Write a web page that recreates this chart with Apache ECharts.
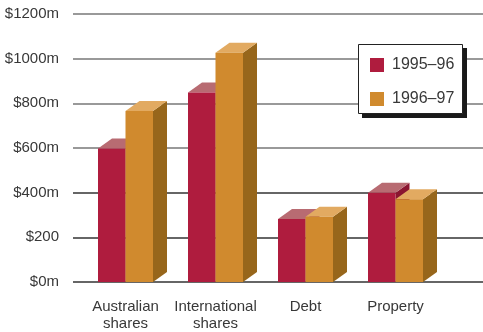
<!DOCTYPE html>
<html>
<head>
<meta charset="utf-8">
<script src="https://cdn.jsdelivr.net/npm/echarts@6/dist/echarts.min.js"></script>
<style>
  html, body { margin: 0; padding: 0; background: #fff; }
  #chart { width: 483px; height: 332px; }
</style>
</head>
<body>
<div id="chart"></div>
<script>
// Funds invested by asset class, two financial years
const categories = ['Australian\nshares', 'International\nshares', 'Debt', 'Property'];
const seriesNames = ['1995–96', '1996–97'];
const values1995 = [598, 848, 282, 400];
const values1996 = [766, 1027, 292, 370];
const yTickLabels = ['$0m', '$200', '$400m', '$600m', '$800m', '$1000m', '$1200m'];

const FONT = '"Liberation Sans Narrow", "Liberation Sans", Arial, sans-serif';
const AXIS_SIZE = 15;
const LEGEND_SIZE = 16;
const TEXT = '#383838';

// face colours: front, top, side
const palettes = [
  { front: '#AF1C3E', top: '#B86B72', side: '#8A1530' },
  { front: '#D08A2E', top: '#E2AA61', side: '#97661B' }
];
const BAR_W = 27.5;
const DEPTH_X = 14;
const DEPTH_Y = -10;

function makeRender(seriesIdx) {
  const pal = palettes[seriesIdx];
  return function (params, api) {
    const cat = api.value(0);
    const val = api.value(1);
    const top = api.coord([cat, val]);
    const base = api.coord([cat, 0]);
    const x0 = top[0] - BAR_W + seriesIdx * BAR_W;
    const x1 = x0 + BAR_W;
    const yt = top[1];
    const yb = base[1];
    return {
      type: 'group',
      children: [
        {
          type: 'polygon',
          shape: { points: [[x1, yt], [x1 + DEPTH_X, yt + DEPTH_Y], [x1 + DEPTH_X, yb + DEPTH_Y], [x1, yb]] },
          style: { fill: pal.side }
        },
        {
          type: 'polygon',
          shape: { points: [[x0, yt], [x0 + DEPTH_X, yt + DEPTH_Y], [x1 + DEPTH_X, yt + DEPTH_Y], [x1, yt]] },
          style: { fill: pal.top }
        },
        {
          type: 'rect',
          shape: { x: x0, y: yt, width: BAR_W, height: yb - yt },
          style: { fill: pal.front }
        }
      ]
    };
  };
}

const chart = echarts.init(document.getElementById('chart'), null, { renderer: 'canvas' });
chart.setOption({
  animation: false,
  backgroundColor: '#fff',
  textStyle: { fontFamily: FONT },
  grid: [
    { left: 73, right: 0, top: 14, bottom: 50 },
    { left: 80.5, right: 42.5, top: 14, bottom: 50 }
  ],
  xAxis: [
    { gridIndex: 0, type: 'value', show: false, min: 0, max: 1 },
    {
      gridIndex: 1,
      type: 'category',
      data: categories,
      axisLine: { show: false },
      axisTick: { show: false },
      axisLabel: { interval: 0, margin: 16, color: TEXT, fontFamily: FONT, fontSize: AXIS_SIZE, lineHeight: 17 }
    }
  ],
  yAxis: [
    {
      gridIndex: 0,
      type: 'value',
      min: 0, max: 1200, interval: 200,
      axisLine: { show: false },
      axisTick: { show: false },
      axisLabel: {
        margin: 14, color: TEXT, fontFamily: FONT, fontSize: AXIS_SIZE,
        formatter: (v) => yTickLabels[Math.round(v / 200)]
      },
      splitLine: {
        lineStyle: { width: 1.5, color: ['#333', '#333', '#333', '#777', '#777', '#777', '#777'] }
      }
    },
    { gridIndex: 1, type: 'value', min: 0, max: 1200, show: false }
  ],
  // legend frame with a hard drop shadow
  graphic: [
    { type: 'rect', z: 10, shape: { x: 362, y: 48, width: 105, height: 70 }, style: { fill: '#1a1a1a' } },
    { type: 'rect', z: 11, shape: { x: 358.5, y: 44.5, width: 104, height: 69 }, style: { fill: '#fff', stroke: '#222', lineWidth: 1 } }
  ],
  legend: {
    orient: 'vertical',
    left: 370,
    top: 57,
    padding: 0,
    z: 12,
    itemWidth: 14,
    itemHeight: 14,
    itemGap: 18,
    icon: 'rect',
    textStyle: { color: TEXT, fontFamily: FONT, fontSize: LEGEND_SIZE, lineHeight: 14, padding: [0, 0, 0, 3] },
    data: seriesNames
  },
  series: [
    {
      name: seriesNames[0],
      type: 'custom',
      xAxisIndex: 1, yAxisIndex: 1,
      itemStyle: { color: palettes[0].front },
      renderItem: makeRender(0),
      encode: { x: 0, y: 1 },
      data: values1995.map((v, i) => [i, v])
    },
    {
      name: seriesNames[1],
      type: 'custom',
      xAxisIndex: 1, yAxisIndex: 1,
      itemStyle: { color: palettes[1].front },
      renderItem: makeRender(1),
      encode: { x: 0, y: 1 },
      data: values1996.map((v, i) => [i, v])
    }
  ]
});
</script>
</body>
</html>
